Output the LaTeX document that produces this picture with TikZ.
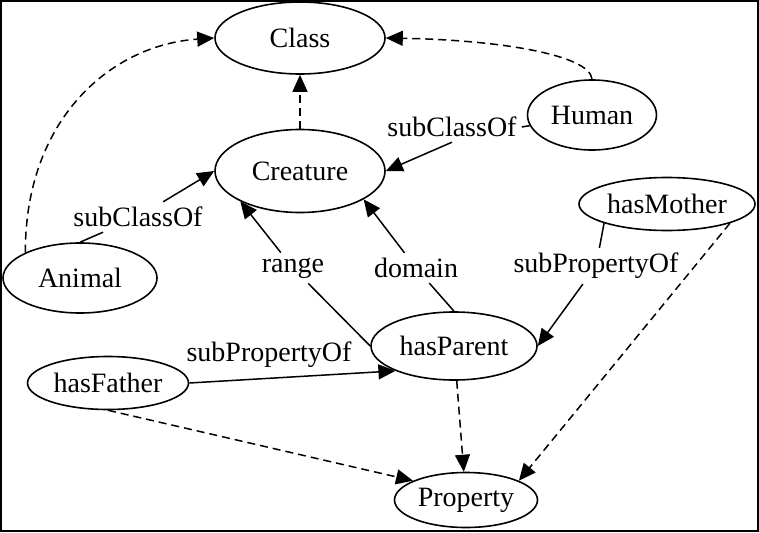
\documentclass[tikz,border=0pt]{standalone}
\usepackage{fontspec}
\setmainfont{Liberation Serif}
\usetikzlibrary{shapes.geometric,arrows.meta}
\begin{document}
\begin{tikzpicture}
          [x=1pt,y=-1pt,font=\fontsize{28}{32}\selectfont,
           every node/.style={inner sep=0pt},
           concept/.style={ellipse, draw, line width=1.6pt},
           edgelabel/.style={inner sep=5pt},
           link/.style={line width=1.5pt,-{Triangle[length=17pt,width=15pt]}},
           typeof/.style={link,dash pattern=on 8pt off 5pt}]
        \useasboundingbox (0,0) rectangle (759,532);
        \draw[line width=1.8pt] (0.9,0.9) rectangle (758.1,531.1);

        \node[concept,minimum width=170pt,minimum height=72pt] (Class) at (300,38) {Class};
        \node[concept,minimum width=170pt,minimum height=83pt] (Creature) at (300,171) {Creature};
        \node[concept,minimum width=129pt,minimum height=70pt] (Human) at (592,115) {Human};
        \node[concept,minimum width=154pt,minimum height=70pt] (Animal) at (80,278) {Animal};

        \node[concept,minimum width=176pt,minimum height=53pt] (hasMother) at (667,204) {hasMother};
        \node[concept,minimum width=161pt,minimum height=53pt] (hasFather) at (108,383) {hasFather};
        \node[concept,minimum width=166pt,minimum height=68pt] (hasParent) at (454,346) {hasParent};

        \node[concept,minimum width=143pt,minimum height=55pt] (Property) at (466,500) {Property};

        \node[edgelabel] (lsubA) at (138,217) {subClassOf};
        \node[edgelabel] (lsubH) at (452,127) {subClassOf};
        \node[edgelabel] (lrange) at (293,268) {range};
        \node[edgelabel] (ldomain) at (416,268) {domain};
        \node[edgelabel] (lsubM) at (596,266) {subPropertyOf};
        \node[edgelabel] (lsubF) at (269,355) {subPropertyOf};

        \draw[typeof] (Animal.155) .. controls (25,120) and (110,45) .. (Class.west);
        \draw[typeof] (Human.north) .. controls (590,55) and (500,40) .. (Class.east);

        \foreach \from/\to in {Creature/Class, hasParent/Property, hasFather.south/Property.160, hasMother.-17/Property.20}
          \draw[typeof] (\from) -- (\to);

        \draw[link] (Animal.north) -- (lsubA) -- (Creature.west);
        \draw[link] (Human) -- (lsubH.east) (lsubH.south) -- (Creature.east);
        \draw[link] (hasParent.west) -- (lrange) -- (Creature.207);
        \draw[link] (hasParent.north) -- (ldomain) -- (Creature.-24);
        \draw[link] (hasMother.197) -- (lsubM) -- (hasParent.east);
        \draw[link] (hasFather.east) -- (hasParent.203);
      \end{tikzpicture}
\end{document}
